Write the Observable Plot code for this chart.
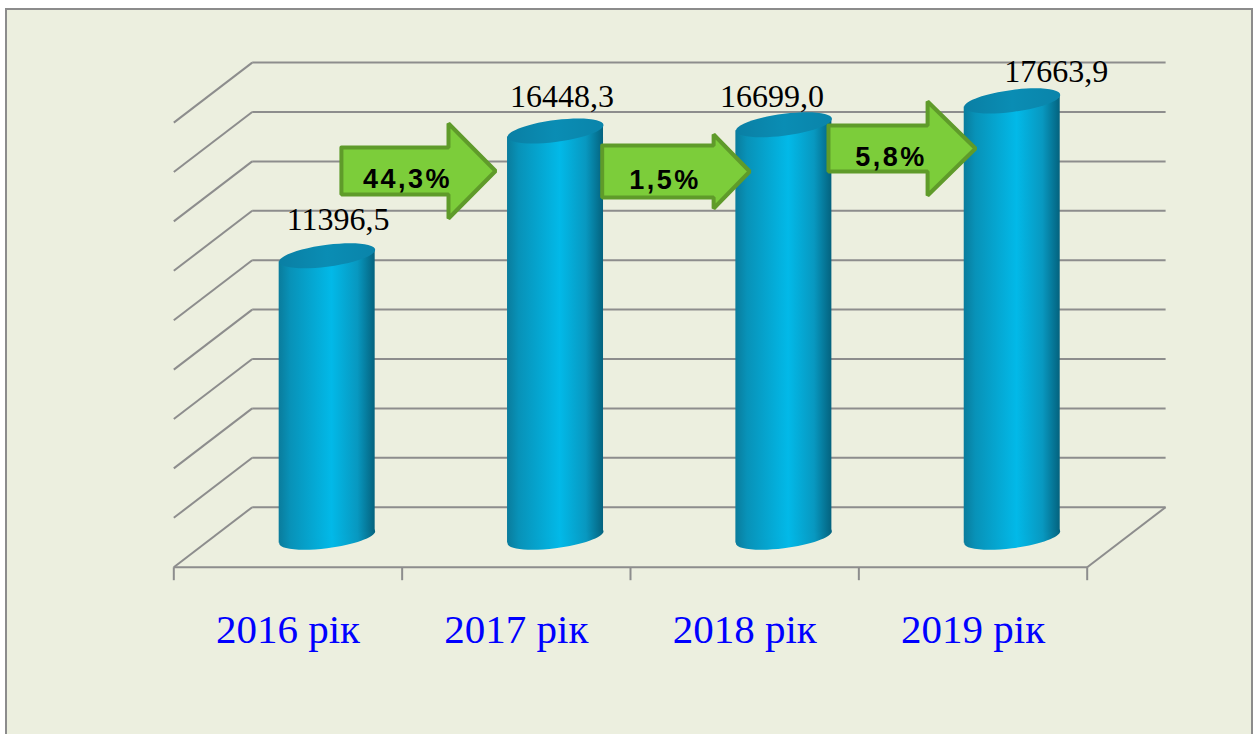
<!DOCTYPE html>
<html><head><meta charset="utf-8">
<script src="https://cdn.jsdelivr.net/npm/d3@7"></script>
<script src="https://cdn.jsdelivr.net/npm/@observablehq/plot@0.6"></script>
<style>
html,body{margin:0;padding:0;background:#fff;}
#frame{position:absolute;left:5px;top:8px;width:1244px;height:740px;border:2px solid #8c8c8c;background:#ECEFDF;}
#chart{position:absolute;left:0;top:0;}
</style></head><body>
<svg width="0" height="0" style="position:absolute">
<defs>
<linearGradient id="bodyGrad" x1="0" y1="0" x2="1" y2="0">
<stop offset="0" stop-color="#0a7c9c"/>
<stop offset="0.12" stop-color="#0892b8"/>
<stop offset="0.55" stop-color="#02b9e8"/>
<stop offset="0.82" stop-color="#0898c0"/>
<stop offset="1" stop-color="#04627e"/>
</linearGradient>
<linearGradient id="topGrad" x1="0" y1="0" x2="1" y2="0">
<stop offset="0" stop-color="#0a7fa4"/>
<stop offset="0.5" stop-color="#0a8db4"/>
<stop offset="1" stop-color="#0a84aa"/>
</linearGradient>
</defs>
</svg>
<div id="frame"></div><div id="chart"></div>
<script>
// ---- data ----
const years = ["2016 рік", "2017 рік", "2018 рік", "2019 рік"];
const values = [11396.5, 16448.3, 16699.0, 17663.9];
const valueLabels = ["11396,5", "16448,3", "16699,0", "17663,9"];
const growthLabels = ["44,3%", "1,5%", "5,8%"];
const yTicks = [0, 2000, 4000, 6000, 8000, 10000, 12000, 14000, 16000, 18000];

// ---- layout ----
const W = 1253, H = 734;
const X_RANGE = [173.3, 1086.7];   // front floor edge
const Y_RANGE = [566.7, 122.1];    // front plane 0 .. Y_MAX
const Y_MAX = 18000;
const DEPTH_PX = [78.4, -60];      // back wall offset
const TICK_PX = 13;
const BAR_RX = 48, BAR_RY_RATIO = 11 / 48, SHEAR = -0.125;
const LABEL_OFFSETS = [[11, 26], [6.5, 23.5], [-12, 17.5], [44, 19]]; // px: dx, rise of baseline above bar top
// arrows: start, head base, tip (category units), level (value), body half-height px, head half-height px
const ARROWS = [
  {x0: 0.734, xh: 1.203, xt: 1.409, v: 16040, bh: 23.5, hh: 47.5},
  {x0: 1.876, xh: 2.364, xt: 2.522, v: 16020, bh: 26, hh: 37},
  {x0: 2.867, xh: 3.301, xt: 3.511, v: 16951, bh: 23, hh: 47}
];
const SERIF = "'Liberation Serif', 'Times New Roman', serif";

const pxPerCat = (X_RANGE[1] - X_RANGE[0]) / years.length;
const pxPerVal = (Y_RANGE[0] - Y_RANGE[1]) / Y_MAX;
const dC = DEPTH_PX[0] / pxPerCat, dV = -DEPTH_PX[1] / pxPerVal;
const n = years.length;

// frame lines
const lines = [];
for (const t of yTicks) {
  lines.push({x1: dC, y1: t + dV, x2: n + dC, y2: t + dV});
  lines.push({x1: 0, y1: t, x2: dC, y2: t + dV});
}
lines.push({x1: 0, y1: 0, x2: n, y2: 0});
lines.push({x1: n, y1: 0, x2: n + dC, y2: dV});
for (let i = 0; i <= n; i++) lines.push({x1: i, y1: 0, x2: i, y2: -TICK_PX / pxPerVal});

// cylinders
const hw = BAR_RX / pxPerCat, sh = (BAR_RX * -SHEAR) / pxPerVal;
const bars = values.map((v, i) => {
  const c = i + 0.5 + dC / 2;
  return {i, c, base: dV / 2, top: v + dV / 2};
});
const sides = bars.flatMap(b => [
  {i: b.i, x: b.c - hw, y1: b.base - sh, y2: b.top - sh},
  {i: b.i, x: b.c + hw, y1: b.base + sh, y2: b.top + sh}
]);

function ellipseSymbol(ratio, shear) {
  const K = 0.5523;
  return {
    draw(ctx, size) {
      const rx = Math.sqrt(size / Math.PI), ry = rx * ratio;
      const P = (x, y) => [x, y + shear * x];
      const m = P(rx, 0); ctx.moveTo(m[0], m[1]);
      const segs = [
        [[rx, K * ry], [K * rx, ry], [0, ry]],
        [[-K * rx, ry], [-rx, K * ry], [-rx, 0]],
        [[-rx, -K * ry], [-K * rx, -ry], [0, -ry]],
        [[K * rx, -ry], [rx, -K * ry], [rx, 0]]
      ];
      for (const s of segs) {
        const a = P(...s[0]), b = P(...s[1]), c = P(...s[2]);
        ctx.bezierCurveTo(a[0], a[1], b[0], b[1], c[0], c[1]);
      }
      ctx.closePath();
    }
  };
}
const ell = ellipseSymbol(BAR_RY_RATIO, SHEAR);

// value labels
const vLabels = bars.map((b, i) => ({
  x: b.c + LABEL_OFFSETS[i][0] / pxPerCat,
  y: b.top + LABEL_OFFSETS[i][1] / pxPerVal,
  text: valueLabels[i]
}));

// arrows
const arrowPts = ARROWS.flatMap((a, k) => {
  const bh = a.bh / pxPerVal, hh = a.hh / pxPerVal;
  return [
    [a.x0, a.v + bh], [a.xh, a.v + bh], [a.xh, a.v + hh], [a.xt, a.v],
    [a.xh, a.v - hh], [a.xh, a.v - bh], [a.x0, a.v - bh], [a.x0, a.v + bh]
  ].map(([x, y]) => ({k, x, y}));
});
const arrowText = ARROWS.map((a, k) => ({x: (a.x0 + a.xt) / 2 - 11 / pxPerCat, y: a.v, text: growthLabels[k]}));

const chart = Plot.plot({
  width: W, height: H,
  margin: 0,
  style: {background: "transparent", overflow: "visible"},
  x: {type: "linear", domain: [0, n], range: X_RANGE, axis: null},
  y: {type: "linear", domain: [0, Y_MAX], range: Y_RANGE, axis: null},
  marks: [
    Plot.link(lines, {x1: "x1", y1: "y1", x2: "x2", y2: "y2", stroke: "#8d8d8d", strokeWidth: 2}),
    Plot.dot(bars, {x: "c", y: "base", r: BAR_RX, symbol: ell, fill: "url(#bodyGrad)", stroke: "none"}),
    Plot.areaY(sides, {x: "x", y1: "y1", y2: "y2", z: "i", fill: "url(#bodyGrad)"}),
    Plot.dot(bars, {x: "c", y: "top", r: BAR_RX, symbol: ell, fill: "url(#topGrad)", stroke: "none"}),
    Plot.text(vLabels, {x: "x", y: "y", text: "text", lineAnchor: "bottom", fontFamily: SERIF, fontSize: 32, fill: "#000"}),
    Plot.text(years, {x: (d, i) => i + 0.5, y: 0, text: d => d, lineAnchor: "bottom", dy: 76, fontFamily: SERIF, fontSize: 41, fill: "#0000ff"}),
    Plot.line(arrowPts, {x: "x", y: "y", z: "k", fill: "#7CCD3A", stroke: "#5F9B2A", strokeWidth: 4, strokeLinejoin: "miter", curve: "linear"}),
    Plot.text(arrowText, {x: "x", y: "y", text: "text", lineAnchor: "bottom", dy: 17, fontFamily: "'Liberation Sans', Arial, sans-serif", fontWeight: "bold", fontSize: 27, fill: "#000"})
  ]
});
d3.select(chart).selectAll("text").filter(function () { return growthLabels.includes(this.textContent); }).attr("letter-spacing", 2.5);
document.getElementById("chart").appendChild(chart);
</script>
</body></html>
